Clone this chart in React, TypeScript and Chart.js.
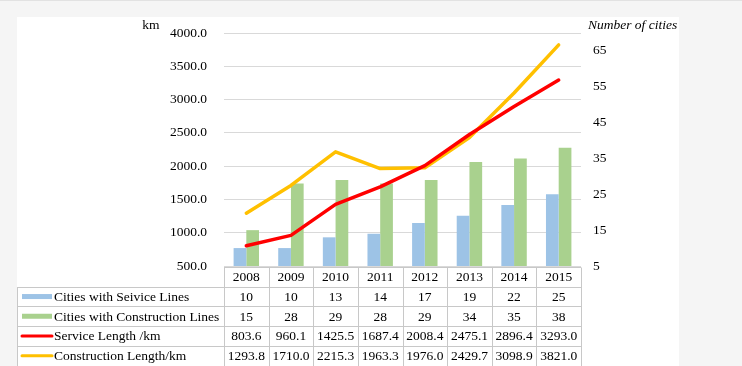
import React, { useEffect, useRef } from "react";
import { Chart, registerables } from "chart.js";

Chart.register(...registerables);

const years = ["2008", "2009", "2010", "2011", "2012", "2013", "2014", "2015"];
const citiesService = [10, 10, 13, 14, 17, 19, 22, 25];
const citiesConstruction = [15, 28, 29, 28, 29, 34, 35, 38];
const serviceLength = [803.6, 960.1, 1425.5, 1687.4, 2008.4, 2475.1, 2896.4, 3293.0];
const constructionLength = [1293.8, 1710.0, 2215.3, 1963.3, 1976.0, 2429.7, 3098.9, 3821.0];
const cityTicks = [5, 15, 25, 35, 45, 55, 65];
const seriesLabels = [
  "Cities with Seivice Lines",
  "Cities with Construction Lines",
  "Service Length /km",
  "Construction Length/km",
];
const leftTitle = "km";
const rightTitle = "Number of cities";

const BLUE = "#9dc3e6";
const GREEN = "#a9d18e";
const RED = "#ff0000";
const YELLOW = "#ffc000";
const FONT = "'Liberation Serif', 'Times New Roman', serif";
const FS = 13.5;

const tablePlugin = {
  id: "tablePlugin",
  beforeDraw(chart: any) {
    const { ctx, width, height } = chart;
    ctx.save();
    ctx.fillStyle = "#f5f5f5";
    ctx.fillRect(0, 0, width, height);
    ctx.fillStyle = "#e2e2e2";
    ctx.fillRect(0, 0, width, 1);
    ctx.fillStyle = "#ffffff";
    ctx.fillRect(17, 17, 662, height - 17);
    ctx.restore();
  },
  afterDraw(chart: any) {
    const { ctx, chartArea } = chart;
    const x = chart.scales.x;
    const n = years.length;
    const left = chartArea.left;
    const right = chartArea.right;
    const colW = (right - left) / n;
    const top = chartArea.bottom + 1;
    const rowH = 19.7;
    const legendLeft = 17;
    ctx.save();
    // grid lines of the table
    ctx.strokeStyle = "#c8c8c8";
    ctx.lineWidth = 1;
    const rows = [top, top + rowH, top + 2 * rowH, top + 3 * rowH, top + 4 * rowH, top + 5 * rowH];
    ctx.beginPath();
    rows.forEach((ry, i) => {
      const yy = Math.round(ry) + 0.5;
      ctx.moveTo(i === 0 ? left : legendLeft, yy);
      ctx.lineTo(right, yy);
    });
    for (let i = 0; i <= n; i++) {
      const xx = Math.round(left + i * colW) + 0.5;
      ctx.moveTo(xx, Math.round(rows[0]) + 0.5);
      ctx.lineTo(xx, Math.round(rows[5]) + 0.5);
    }
    ctx.moveTo(legendLeft + 0.5, Math.round(rows[1]) + 0.5);
    ctx.lineTo(legendLeft + 0.5, Math.round(rows[5]) + 0.5);
    ctx.stroke();

    ctx.fillStyle = "#000";
    ctx.font = `${FS}px ${FONT}`;
    ctx.textAlign = "center";
    ctx.textBaseline = "middle";
    const rowValues = [
      citiesService.map((v) => String(v)),
      citiesConstruction.map((v) => String(v)),
      serviceLength.map((v) => v.toFixed(1)),
      constructionLength.map((v) => v.toFixed(1)),
    ];
    years.forEach((yr, i) => {
      const cx = x.getPixelForValue(i);
      ctx.fillText(yr, cx, (rows[0] + rows[1]) / 2 + 1);
      rowValues.forEach((vals, r) => {
        ctx.fillText(vals[i], cx, (rows[r + 1] + rows[r + 2]) / 2 + 1);
      });
    });

    // legend keys and labels
    const colors = [BLUE, GREEN, RED, YELLOW];
    seriesLabels.forEach((lab, r) => {
      const cy = (rows[r + 1] + rows[r + 2]) / 2;
      if (r < 2) {
        ctx.fillStyle = colors[r];
        ctx.fillRect(22, cy - 2.5, 30, 5);
      } else {
        ctx.strokeStyle = colors[r];
        ctx.lineWidth = 3;
        ctx.lineCap = "round";
        ctx.beginPath();
        ctx.moveTo(22, cy);
        ctx.lineTo(52, cy);
        ctx.stroke();
      }
      ctx.fillStyle = "#000";
      ctx.textAlign = "left";
      ctx.fillText(lab, 54, cy + 1);
    });

    // axis titles
    ctx.textAlign = "center";
    ctx.fillText(leftTitle, 151, 25);
    ctx.font = `italic ${FS}px ${FONT}`;
    ctx.textAlign = "left";
    ctx.fillText(rightTitle, 588, 25);
    ctx.restore();
  },
};

export default function App() {
  const ref = useRef<HTMLCanvasElement>(null);
  useEffect(() => {
    const canvas = ref.current;
    if (!canvas) return;
    const chart = new Chart(canvas, {
      type: "bar",
      data: {
        labels: years,
        datasets: [
          {
            type: "line",
            label: seriesLabels[2],
            data: serviceLength,
            yAxisID: "y",
            borderColor: RED,
            backgroundColor: RED,
            borderWidth: 3.5,
            pointRadius: 0,
            borderCapStyle: "round",
            borderJoinStyle: "round",
            order: 0,
          } as any,
          {
            type: "line",
            label: seriesLabels[3],
            data: constructionLength,
            yAxisID: "y",
            borderColor: YELLOW,
            backgroundColor: YELLOW,
            borderWidth: 3.5,
            pointRadius: 0,
            borderCapStyle: "round",
            borderJoinStyle: "round",
            order: 0,
          } as any,
          {
            type: "bar",
            label: seriesLabels[0],
            data: citiesService,
            yAxisID: "y1",
            backgroundColor: BLUE,
            barPercentage: 1,
            categoryPercentage: 0.57,
            order: 1,
          },
          {
            type: "bar",
            label: seriesLabels[1],
            data: citiesConstruction,
            yAxisID: "y1",
            backgroundColor: GREEN,
            barPercentage: 1,
            categoryPercentage: 0.57,
            order: 1,
          },
        ],
      },
      options: {
        responsive: false,
        animation: false,
        layout: { padding: { top: 33, bottom: 100, left: 0, right: 0 } },
        plugins: {
          legend: { display: false },
          tooltip: { enabled: false },
        },
        scales: {
          x: { display: false, offset: true },
          y: {
            position: "left",
            min: 500,
            max: 4000,
            afterFit: (s: any) => {
              s.width = 224;
            },
            border: { display: false },
            grid: { color: "#d9d9d9", drawTicks: false, lineWidth: 1 },
            ticks: {
              stepSize: 500,
              padding: 17,
              color: "#000",
              font: { family: FONT, size: FS },
              callback: (v: any) => Number(v).toFixed(1),
            },
          },
          y1: {
            position: "right",
            min: 5,
            max: 70,
            afterFit: (s: any) => {
              s.width = 161;
            },
            afterBuildTicks: (s: any) => {
              s.ticks = cityTicks.map((v) => ({ value: v }));
            },
            border: { display: false },
            grid: { display: false, drawTicks: false },
            ticks: {
              padding: 12,
              color: "#000",
              font: { family: FONT, size: FS },
              callback: (v: any) => String(v),
            },
          },
        },
      },
      plugins: [tablePlugin],
    });
    return () => chart.destroy();
  }, []);
  return (
    <div style={{ position: "fixed", left: 0, top: 0, width: 742, height: 366 }}>
      <canvas ref={ref} width={742} height={366} style={{ display: "block" }} />
    </div>
  );
}
